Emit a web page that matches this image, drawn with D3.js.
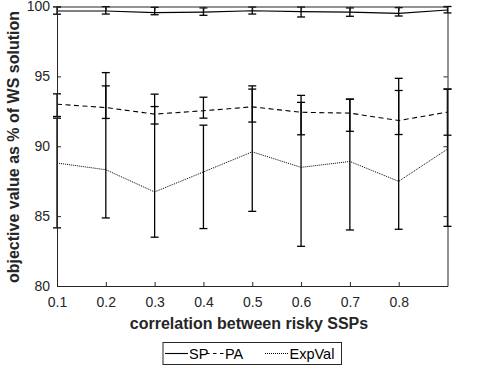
<!DOCTYPE html>
<html><head><meta charset="utf-8">
<script src="https://cdn.jsdelivr.net/npm/d3@7"></script>
<style>body{margin:0;background:#fff}svg{display:block}</style>
</head><body>
<svg id="c" width="478" height="368"></svg>
<script>
const corr = [0.1,0.2,0.3,0.4,0.5,0.6,0.7,0.8,0.9];
const xTicks = [0.1,0.2,0.3,0.4,0.5,0.6,0.7,0.8];
const yTicks = [80,85,90,95,100];

const spMean = [99.68,99.68,99.56,99.60,99.70,99.63,99.60,99.51,99.75];
const spHigh = [99.97,99.99,99.94,99.90,99.96,99.96,99.90,99.92,100.0];
const spLow  = [99.45,99.46,99.41,99.37,99.46,99.25,99.30,99.32,99.54];

const paMean = [93.01,92.77,92.30,92.54,92.82,92.43,92.37,91.84,92.44];
const paHigh = [93.75,94.32,92.84,93.51,94.09,93.14,93.37,93.99,94.09];
const paLow  = [92.13,91.99,91.59,92.01,91.73,90.82,91.07,90.84,90.79];

const evMean = [88.80,88.32,86.73,88.16,89.60,88.49,88.91,87.49,89.80];
const evHigh = [92.01,95.27,93.73,91.51,94.32,93.64,93.37,94.86,94.09];
const evLow  = [84.16,84.87,83.49,84.11,85.34,82.84,84.01,84.06,84.27];

const series = [
  {name:"SP", mean:spMean, hi:spHigh, lo:spLow, dash:null, legDash:null, w:1.1},
  {name:"PA", mean:paMean, hi:paHigh, lo:paLow, dash:"5,3.5", legDash:"3.5,3.5", w:1.1},
  {name:"ExpVal", mean:evMean, hi:evHigh, lo:evLow, dash:"1,1", legDash:"1,1", w:1}
];

const svg = d3.select("#c");
const L=57, R=447.5, T=6.5, B=286;
const x = d3.scaleLinear().domain([0.1,0.9]).range([L,R]);
const y = d3.scaleLinear().domain([80,100]).range([B,T]);
const axc = "#262626";
const font = "'Liberation Sans', Arial, Helvetica, sans-serif";

series.forEach(s=>{
  const g = svg.append("g");
  g.append("path")
    .datum(corr.map((c,i)=>[c,s.mean[i]]))
    .attr("d", d3.line().x(d=>x(d[0])).y(d=>y(d[1])))
    .attr("fill","none").attr("stroke","#000").attr("stroke-width",s.w)
    .attr("stroke-dasharray", s.dash);
  corr.forEach((c,i)=>{
    const cx = x(c);
    g.append("line").attr("x1",cx).attr("x2",cx).attr("y1",y(s.hi[i])).attr("y2",y(s.lo[i]))
      .attr("stroke","#000").attr("stroke-width",1.3);
    [s.hi[i], s.lo[i]].forEach(v=>{
      g.append("line").attr("x1",cx-4).attr("x2",cx+4).attr("y1",y(v)).attr("y2",y(v))
        .attr("stroke","#000").attr("stroke-width",1.3);
    });
  });
});

const ax = svg.append("g");
const gBottom = ax.append("g").attr("transform",`translate(0,${B})`)
  .call(d3.axisBottom(x).tickValues(xTicks).tickFormat(d3.format(".1f")).tickSizeInner(-4).tickSizeOuter(0).tickPadding(11.5));
const gLeft = ax.append("g").attr("transform",`translate(${L},0)`)
  .call(d3.axisLeft(y).tickValues(yTicks).tickSizeInner(-4).tickSizeOuter(0).tickPadding(7));
const gTop = ax.append("g").attr("transform",`translate(0,${T})`)
  .call(d3.axisTop(x).tickValues(xTicks).tickFormat("").tickSizeInner(-4).tickSizeOuter(0));
const gRight = ax.append("g").attr("transform",`translate(${R},0)`)
  .call(d3.axisRight(y).tickValues(yTicks).tickFormat("").tickSizeInner(-4).tickSizeOuter(0));
[gBottom,gLeft,gTop,gRight].forEach(g=>{
  g.selectAll("path").attr("stroke",axc).attr("stroke-width",1);
  g.selectAll("line").attr("stroke",axc).attr("stroke-width",1);
  g.selectAll("text").attr("fill",axc).style("font-family",font).style("font-size","14px");
});

svg.append("text").attr("x",249).attr("y",329).attr("text-anchor","middle")
  .style("font-family",font).style("font-size","16px").style("font-weight","bold").attr("fill",axc)
  .text("correlation between risky SSPs");
svg.append("text").attr("transform",`translate(19,147) rotate(-90)`).attr("text-anchor","middle")
  .style("font-family",font).style("font-size","16px").style("font-weight","bold").attr("fill",axc)
  .text("objective value as % of WS solution");

const lg = svg.append("g");
lg.append("rect").attr("x",163).attr("y",342.5).attr("width",178.5).attr("height",22)
  .attr("fill","#fff").attr("stroke",axc).attr("stroke-width",1);
const items = [
  {s:series[0], x0:165, x1:188, tx:189},
  {s:series[1], x0:206, x1:224, tx:225},
  {s:series[2], x0:265, x1:288, tx:289.5}
];
items.forEach(it=>{
  lg.append("line").attr("x1",it.x0).attr("x2",it.x1).attr("y1",353.5).attr("y2",353.5)
    .attr("stroke","#000").attr("stroke-width",it.s.w).attr("stroke-dasharray",it.s.legDash);
  lg.append("text").attr("x",it.tx).attr("y",358.5).style("font-family",font).style("font-size","14.5px")
    .attr("fill","#000").text(it.s.name);
});
</script>
</body></html>
